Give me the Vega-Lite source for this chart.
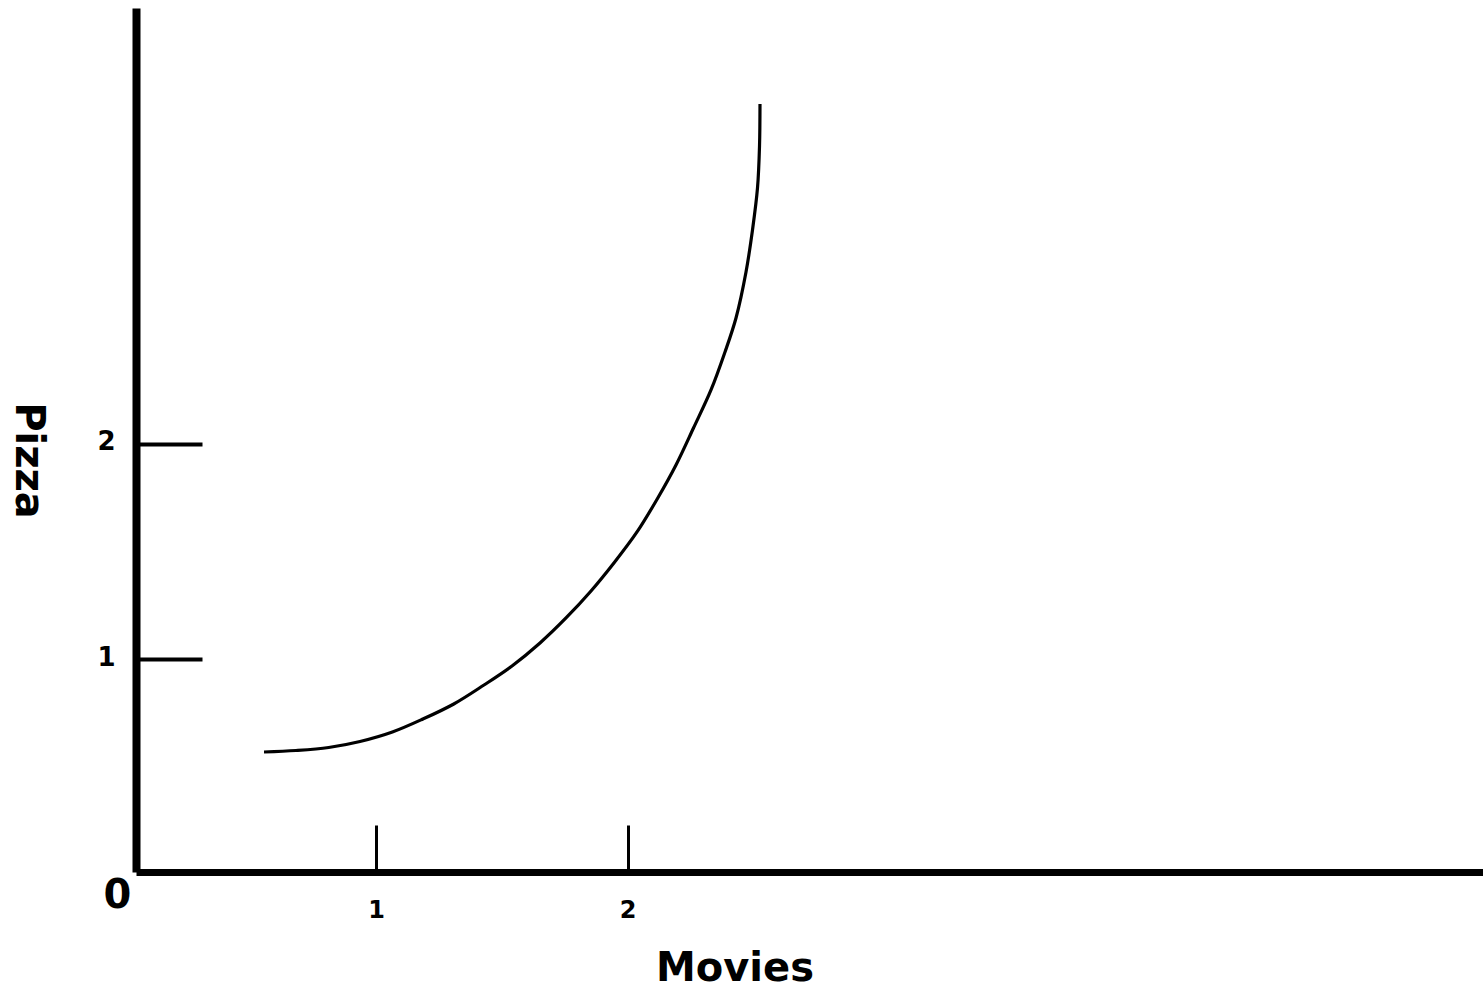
{
  "$schema": "https://vega.github.io/schema/vega-lite/v6.json",
  "width": 1347,
  "height": 864,
  "autosize": {"type": "none"},
  "padding": {"left": 136, "top": 8, "right": 0, "bottom": 117},
  "background": "white",
  "config": {"view": {"stroke": null}, "axis": {"grid": false}},
  "layer": [
    {
      "data": {"values": [
        {"movies": 0.5547, "pizza": 0.5694},
        {"movies": 0.6819, "pizza": 0.5764},
        {"movies": 0.8119, "pizza": 0.5903},
        {"movies": 0.9364, "pizza": 0.6182},
        {"movies": 1.0652, "pizza": 0.6623},
        {"movies": 1.1869, "pizza": 0.7227},
        {"movies": 1.3093, "pizza": 0.7924},
        {"movies": 1.4294, "pizza": 0.8806},
        {"movies": 1.5408, "pizza": 0.9689},
        {"movies": 1.6521, "pizza": 1.0757},
        {"movies": 1.7555, "pizza": 1.1918},
        {"movies": 1.8549, "pizza": 1.3172},
        {"movies": 1.9491, "pizza": 1.4519},
        {"movies": 2.0378, "pizza": 1.5913},
        {"movies": 2.1193, "pizza": 1.7469},
        {"movies": 2.1928, "pizza": 1.9025},
        {"movies": 2.2624, "pizza": 2.0743},
        {"movies": 2.332, "pizza": 2.2508},
        {"movies": 2.3877, "pizza": 2.4273},
        {"movies": 2.4314, "pizza": 2.5852},
        {"movies": 2.4712, "pizza": 2.7989},
        {"movies": 2.497, "pizza": 2.994},
        {"movies": 2.5169, "pizza": 3.189},
        {"movies": 2.5249, "pizza": 3.3841},
        {"movies": 2.5268, "pizza": 3.5792}
      ]},
      "mark": {"type": "line", "interpolate": "catmull-rom", "color": "black", "strokeWidth": 3.2},
      "encoding": {
        "x": {
          "field": "movies", "type": "quantitative",
          "scale": {"domain": [0.0457, 5.4016], "nice": false, "zero": false},
          "axis": {
            "values": [1, 2], "format": "d",
            "domainColor": "black", "domainWidth": 7,
            "tickColor": "black", "tickSize": -47, "tickWidth": 3,
            "labelFont": "DejaVu Sans", "labelFontWeight": "bold", "labelFontSize": 24,
            "labelColor": "black", "labelPadding": 73.5, "labelBaseline": "top",
            "labelFlush": false, "labelOverlap": false,
            "title": "Movies", "titleFont": "DejaVu Sans", "titleFontWeight": "bold",
            "titleFontSize": 40, "titleColor": "black",
            "titleX": 598.5, "titleY": 108, "titleBaseline": "alphabetic", "titleAlign": "center"
          }
        },
        "y": {
          "field": "pizza", "type": "quantitative",
          "scale": {"domain": [0.012, 4.025], "nice": false, "zero": false},
          "axis": {
            "values": [1, 2], "format": "d",
            "domainColor": "black", "domainWidth": 8,
            "tickColor": "black", "tickSize": -66, "tickWidth": 4,
            "labelFont": "DejaVu Sans", "labelFontWeight": "bold", "labelFontSize": 26,
            "labelColor": "black", "labelPadding": 87, "labelBaseline": "middle",
            "labelOffset": -2, "labelFlush": false, "labelOverlap": false,
            "title": "Pizza", "titleFont": "DejaVu Sans", "titleFontWeight": "bold",
            "titleFontSize": 40, "titleColor": "black", "titleAngle": 90,
            "titleX": -121, "titleY": 452, "titleBaseline": "alphabetic", "titleAlign": "center"
          }
        }
      }
    },
    {
      "data": {"values": [{"movies": 0, "pizza": 0, "label": "0"}]},
      "mark": {"type": "text", "align": "center", "baseline": "alphabetic", "dx": -7, "dy": 33,
               "font": "DejaVu Sans", "fontWeight": "bold", "fontSize": 40, "color": "black"},
      "encoding": {
        "x": {"field": "movies", "type": "quantitative"},
        "y": {"field": "pizza", "type": "quantitative"},
        "text": {"field": "label"}
      }
    }
  ]
}
